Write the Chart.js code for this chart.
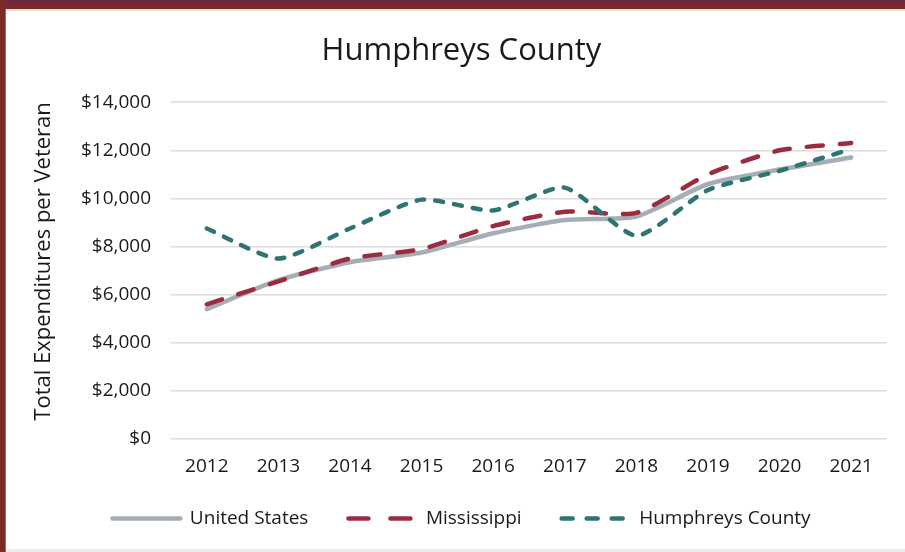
<!DOCTYPE html>
<html>
<head>
<meta charset="utf-8">
<script src="https://cdn.jsdelivr.net/npm/chart.js@4"></script>
<style>
  html, body { margin: 0; padding: 0; background: #fff; }
  #wrap { position: relative; width: 905px; height: 552px; overflow: hidden; }
  canvas { position: absolute; left: 0; top: 0; }
  .b { position: absolute; }
</style>
</head>
<body>
<div id="wrap">
  <canvas id="c" width="905" height="552"></canvas>
  <div class="b" style="left:0;top:0;width:905px;height:4px;background:#6C2A42;"></div>
  <div class="b" style="left:0;top:4px;width:905px;height:5px;background:#7A2B27;"></div>
  <div class="b" style="left:6px;top:9px;width:899px;height:2px;background:#e6e0e0;"></div>
  <div class="b" style="left:0;top:0;width:5px;height:552px;background:#7A2B27;"></div>
  <div class="b" style="left:5px;top:9px;width:1px;height:543px;background:#b06060;"></div>
  <div class="b" style="left:6px;top:549px;width:899px;height:3px;background:#ececec;"></div>
</div>
<script>
const years = ['2012','2013','2014','2015','2016','2017','2018','2019','2020','2021'];
const unitedStates = [5400, 6600, 7350, 7750, 8550, 9100, 9250, 10600, 11200, 11700];
const mississippi  = [5600, 6550, 7500, 7900, 8850, 9450, 9400, 11000, 12000, 12300];
const humphreys    = [8750, 7500, 8750, 9950, 9500, 10450, 8450, 10350, 11150, 12050];
const yTicks = [0, 2000, 4000, 6000, 8000, 10000, 12000, 14000];
const legendDashes = [[], [20, 22], [11, 14]];

const FONT = "'Open Sans', sans-serif";

new Chart(document.getElementById('c'), {
  type: 'line',
  data: {
    labels: years,
    datasets: [
      { label: 'United States', data: unitedStates, borderColor: '#A6ADB6', backgroundColor: '#A6ADB6',
        borderWidth: 4.5, borderDash: [], tension: 0.2, pointRadius: 0, order: 3, borderCapStyle: 'round' },
      { label: 'Mississippi', data: mississippi, borderColor: '#9B2C40', backgroundColor: '#9B2C40',
        borderWidth: 4.5, borderDash: [16, 17], tension: 0.2, pointRadius: 0, order: 2, borderCapStyle: 'round' },
      { label: 'Humphreys County', data: humphreys, borderColor: '#2E7472', backgroundColor: '#2E7472',
        borderWidth: 4.5, borderDash: [8, 11], tension: 0.2, pointRadius: 0, order: 1, borderCapStyle: 'round' }
    ]
  },
  options: {
    responsive: false,
    animation: false,
    layout: { padding: { left: 36, right: 18, top: 0, bottom: 14 } },
    plugins: {
      title: {
        display: true, text: 'Humphreys County', color: '#1a1a1a',
        font: { family: FONT, size: 31, weight: 'normal' },
        padding: { top: 33, bottom: 32 }
      },
      legend: {
        position: 'bottom',
        labels: {
          usePointStyle: true, pointStyle: 'line', pointStyleWidth: 68,
          color: '#1a1a1a', font: { family: FONT, size: 19 }, padding: 40,
          sort: (a, b) => a.datasetIndex - b.datasetIndex,
          generateLabels: (chart) => {
            const items = Chart.defaults.plugins.legend.labels.generateLabels(chart);
            items.forEach(it => {
              it.lineWidth = 4.5; it.lineCap = 'round';
              it.lineDash = legendDashes[it.datasetIndex] || [];
            });
            return items;
          }
        }
      },
      tooltip: { enabled: false }
    },
    scales: {
      x: {
        offset: true,
        grid: { display: false },
        border: { display: false },
        ticks: { color: '#1a1a1a', font: { family: FONT, size: 19 }, mirror: true, padding: -39.4, maxRotation: 0 },
        afterFit: (s) => { s.height = 30; }
      },
      y: {
        min: 0, max: 14000,
        afterBuildTicks: (s) => { s.ticks = yTicks.map(v => ({ value: v })); },
        grid: { color: '#DCDCDC', lineWidth: 1.5, drawTicks: false },
        border: { display: false },
        ticks: { color: '#1a1a1a', font: { family: FONT, size: 19 }, padding: 20,
          callback: (v) => '$' + Number(v).toLocaleString('en-US') },
        title: { display: true, text: 'Total Expenditures per Veteran', color: '#1a1a1a', align: 'end',
          font: { family: FONT, size: 22 }, padding: { top: -5.2, bottom: 0 } },
        afterFit: (s) => { s.width = 135; }
      }
    }
  }
});
</script>
</body>
</html>
